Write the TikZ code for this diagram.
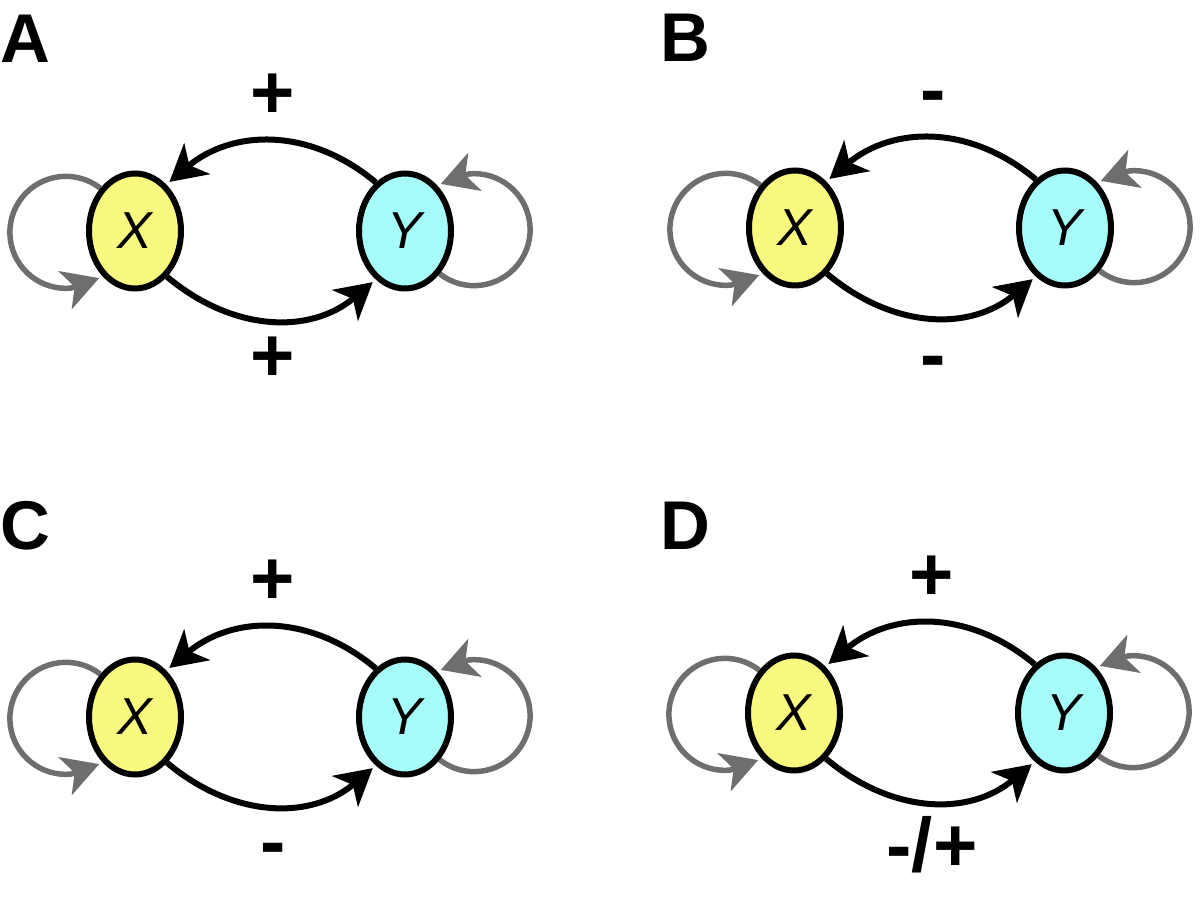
\documentclass[tikz,border=0pt]{standalone}
\usepackage{fontspec}
\setmainfont{Liberation Sans}
\usetikzlibrary{arrows.meta,backgrounds,shapes.geometric}
\definecolor{xfill}{HTML}{F8F97E}
\definecolor{yfill}{HTML}{A6FCF8}
\definecolor{loopgray}{HTML}{6E6E6E}
\tikzset{
  var/.style={ellipse, draw=black, line width=6pt, minimum width=92pt,
    minimum height=115pt, inner sep=0pt, font=\fontsize{52}{60}\selectfont\itshape},
  link/.style={line width=6pt, draw=black,
    -{Stealth[length=36pt,width=40pt,inset=10pt]}, shorten >=4pt},
  selfl/.style={link, draw=loopgray, line width=5.5pt},
  sign/.style={anchor=base, inner sep=0pt, font=\fontsize{76}{80}\selectfont\bfseries},
  plabel/.style={anchor=base west, inner sep=0pt, font=\fontsize{69}{80}\selectfont\bfseries}
}
\newcommand\panel[6]{%
\begin{scope}[shift={(#2,#3)}]
\node[var, fill=xfill] (X#1) at (135,669) {X};
\node[var, fill=yfill] (Y#1) at (405,669) {Y};
\begin{pgfonlayer}{background}
\draw[link] (Y#1.121) to[out=140,in=40,looseness=1.05] (X#1.56);
\draw[link] (X#1.305) to[out=-40,in=-140,looseness=1.05] (Y#1.239);
\draw[selfl] (X#1.129) arc[start angle=52,end angle=275,radius=56] -- (X#1.235);
\draw[selfl] (Y#1.309) arc[start angle=232,end angle=455,radius=56] -- (Y#1.55);
\end{pgfonlayer}
\node[sign] (T#1) at (273,781) {#4};
\node[sign] (B#1) at (273,#6) {#5};
\end{scope}}
\begin{document}
\begin{tikzpicture}[x=1pt,y=1pt]
\useasboundingbox (0,0) rectangle (1200,900);
\panel{A}{0}{0}{+}{+}{518}
\panel{B}{660}{3}{-}{-}{516}
\panel{C}{0}{-486}{+}{-}{518}
\panel{D}{659}{-482}{+}{-/+}{510}
\node[plabel] (LA) at (0,837) {A};
\node[plabel] (LB) at (660,838) {B};
\node[plabel] (LC) at (0,350) {C};
\node[plabel] (LD) at (660,350) {D};
\end{tikzpicture}
\end{document}
